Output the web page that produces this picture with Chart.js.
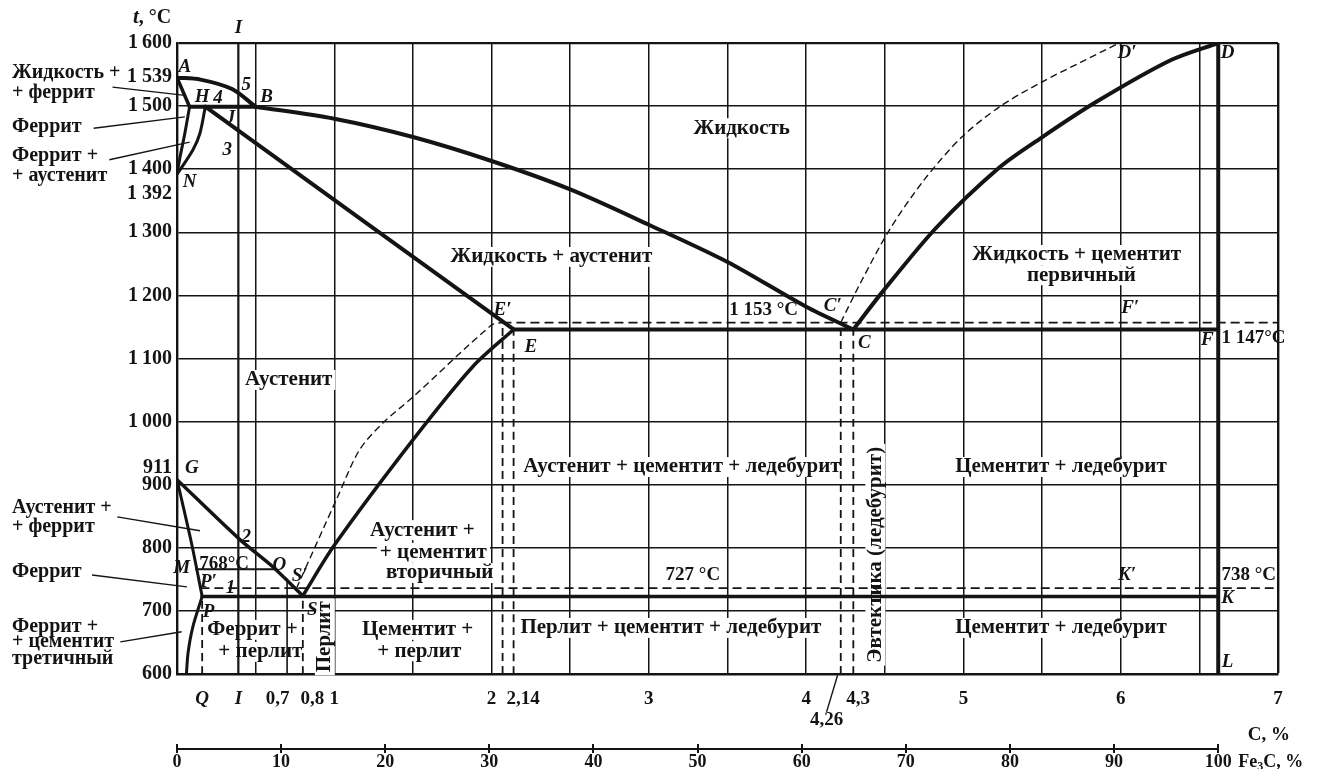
<!DOCTYPE html>
<html>
<head>
<meta charset="utf-8">
<script src="https://cdn.jsdelivr.net/npm/chart.js@4.4.1/dist/chart.umd.min.js"></script>
<style>
  html, body { margin: 0; padding: 0; background: #fff; }
  #wrap { width: 1327px; height: 769px; }
</style>
</head>
<body>
<div id="wrap"><canvas id="chart" width="1327" height="769"></canvas></div>
<script>
// Диаграмма состояния Fe – Fe3C, точки [C %, t °C]

// метастабильная система (сплошные линии)
const liquidusAB = [[0, 1545], [0.15, 1542], [0.35, 1527], [0.5, 1499]]
const solidusAH = [[0, 1545], [0.08, 1499]]
const peritecticHB = [[0.08, 1499], [0.5, 1499]]
const lineHN = [[0.08, 1499], [0.05, 1457], [0.02, 1420], [0, 1392]]
const lineJN = [[0.18, 1499], [0.146, 1457], [0.1, 1430], [0, 1392]]
const solidusJE = [[0.18, 1499], [2.14, 1146]]
const liquidusBC = [[0.5, 1499], [1, 1480], [1.5, 1451], [2, 1413], [2.5, 1368], [3, 1312], [3.5, 1253], [4, 1182], [4.3, 1146]]
const liquidusCD = [[4.3, 1146], [4.48, 1204], [4.83, 1308], [5.23, 1403], [5.49, 1449], [5.84, 1506], [6.32, 1573], [6.62, 1600]]
const eutecticECF = [[2.14, 1146], [6.62, 1146]]
const lineGS = [[0, 908], [0.4, 813], [0.6, 772], [0.8, 724]]
const lineGP = [[0, 908], [0.09, 810], [0.16, 723]]
const linePQ = [[0.16, 723], [0.1, 674], [0.07, 633], [0.06, 600]]
const lineES = [[0.8, 724], [1, 804], [1.5, 971], [1.88, 1087], [2.14, 1146]]
const eutectoidPSK = [[0.16, 723], [6.62, 723]]
const curieMO = [[0.12, 766], [0.62, 766]]

// стабильная система (штриховые линии)
const graphiteCD = [[4.22, 1157], [4.35, 1222], [4.53, 1304], [4.75, 1383], [4.99, 1451], [5.23, 1499], [5.49, 1537], [5.75, 1570], [5.99, 1600]]
const graphiteES = [[0.76, 736], [1.02, 880], [1.16, 955], [1.31, 998], [1.5, 1039], [2, 1153], [2.07, 1157]]
const graphiteECF = [[2.07, 1157], [7, 1157]]
const graphitePSK = [[0.15, 736], [7, 736]]

// вертикали
const alloyI = [[0.39, 600], [0.39, 1600]]
const alloy07 = [[0.7, 600], [0.7, 750]]
const cementiteDL = [[6.62, 600], [6.62, 1600]]
const dropLines = [[0.16, 723], [0.8, 724], [2.07, 1157], [2.14, 1146], [4.22, 1157], [4.3, 1146]]  // [C %, верх]

// шкалы
const gridC = [0, 0.5, 1, 1.5, 2, 2.5, 3, 3.5, 4, 4.5, 5, 5.5, 6, 6.5, 7]
const cTickValues = [0.16, 0.39, 0.7, 0.8, 1, 2, 2.14, 3, 4, 4.3, 5, 6, 7]
const cTickLabels = ['Q', 'I', '0,7', '0,8', '1', '2', '2,14', '3', '4', '4,3', '5', '6', '7']
const fe3cTicks = [0, 10, 20, 30, 40, 50, 60, 70, 80, 90, 100]
const cAtFe3C100 = 6.62

// надписи областей
const phaseLabels = [
  ['Жидкость', 3.59, 1465],
  ['Жидкость + аустенит', 2.38, 1261],
  ['Жидкость + цементит', 5.72, 1264],
  ['первичный', 5.75, 1232],
  ['Аустенит', 0.71, 1066],
  ['Аустенит + цементит + ледебурит', 3.21, 928],
  ['Цементит + ледебурит', 5.62, 928],
  ['Аустенит +', 1.56, 828],
  ['+ цементит', 1.63, 792],
  ['вторичный', 1.67, 760],
  ['Цементит +', 1.53, 670],
  ['+ перлит', 1.54, 636],
  ['Перлит + цементит + ледебурит', 3.14, 673],
  ['Цементит + ледебурит', 5.62, 673],
  ['Феррит +', 0.48, 670],
  ['+ перлит', 0.53, 635]
]
const rotatedLabels = [['Перлит', 0.94, 659], ['Эвтектика (ледебурит)', 4.44, 789]]
const sideLabels = [
  ['Жидкость +', 1552], ['+ феррит', 1521], ['Феррит', 1467], ['Феррит +', 1421], ['+ аустенит', 1389],
  ['Аустенит +', 864], ['+ феррит', 834], ['Феррит', 762],
  ['Феррит +', 675], ['+ цементит', 651], ['третичный', 624]
]
const leaders = [
  [[-0.41, 1530], [0.05, 1517]], [[-0.53, 1465], [0.05, 1483]], [[-0.43, 1415], [0.08, 1443]],
  [[-0.38, 849], [0.146, 827]], [[-0.54, 757], [0.063, 738]], [[-0.36, 651], [0.03, 667]],
  [[4.2, 598], [4.13, 540]]
]
const pointLabels = [
  ['A', 0.05, 1562], ['5', 0.44, 1533], ['H', 0.16, 1514], ['4', 0.26, 1513], ['B', 0.57, 1514],
  ['J', 0.34, 1481], ['3', 0.32, 1430], ['N', 0.08, 1380], ['I', 0.39, 1624], ['G', 0.095, 926],
  ['2', 0.44, 817], ['M', 0.03, 768], ['O', 0.65, 773], ['S′', 0.78, 755], ['P′', 0.2, 746],
  ['1', 0.34, 736], ['P', 0.2, 698], ['S', 0.86, 701], ['E′', 2.07, 1177], ['E', 2.25, 1118],
  ['C′', 4.17, 1183], ['C', 4.37, 1125], ['D′', 6.04, 1584], ['D', 6.68, 1584], ['F′', 6.06, 1180],
  ['F', 6.55, 1129], ['K′', 6.04, 757], ['K', 6.68, 720], ['L', 6.68, 619]
]
const tempLabels = [['1 153 °C', 3.73, 1177], ['727 °C', 3.28, 757], ['768°C', 0.30, 774], ['4,26', 4.13, 527]]
const tempLabelsRight = [['1 147°C', 6.64, 1132], ['738 °C', 6.64, 757]]
const extraTLabels = [['1 539', 1546], ['1 392', 1361], ['911', 926]]

const INK = '#141414'
const SERIF = '"Liberation Serif", "DejaVu Serif", serif'
const F_PHASE = 'bold 21px ' + SERIF
const F_SIDE = 'bold 20px ' + SERIF
const F_POINT = 'italic bold 19px ' + SERIF
const F_NUM = 'bold 19px ' + SERIF

const toXY = pts => pts.map(([x, y]) => ({x, y}))
const lineSet = (pts, width, dash) => ({
  data: toXY(pts),
  showLine: true,
  borderColor: INK,
  borderWidth: width,
  borderDash: dash || [],
  borderCapStyle: dash ? 'butt' : 'round',
  borderJoinStyle: 'round',
  pointRadius: 0,
  tension: 0.3,
  fill: false
})

const datasets = [
  lineSet(liquidusAB, 4), lineSet(solidusAH, 3.5), lineSet(peritecticHB, 4),
  lineSet(lineHN, 3), lineSet(lineJN, 3), lineSet(solidusJE, 4),
  lineSet(liquidusBC, 4), lineSet(liquidusCD, 4), lineSet(eutecticECF, 4),
  lineSet(lineGS, 3.5), lineSet(lineGP, 3), lineSet(linePQ, 3), lineSet(lineES, 3.5),
  lineSet(eutectoidPSK, 3.5), lineSet(curieMO, 2),
  lineSet(graphiteCD, 1.4, [7, 4]), lineSet(graphiteES, 1.4, [7, 4]),
  lineSet(graphiteECF, 1.8, [9, 5]), lineSet(graphitePSK, 1.8, [9, 5]),
  lineSet(alloyI, 2.2), lineSet(alloy07, 1.6), lineSet(cementiteDL, 4)
].concat(dropLines.map(([c, top]) => lineSet([[c, 600], [c, top]], 1.8, [8, 5])))

function put(chart, c, t) {
  return [chart.scales.x.getPixelForValue(c), chart.scales.y.getPixelForValue(t)]
}

function text(ctx, s, x, y, font, align, rot) {
  ctx.save()
  ctx.font = font
  ctx.fillStyle = INK
  ctx.textAlign = align || 'center'
  ctx.textBaseline = 'middle'
  ctx.translate(x, y)
  if (rot) ctx.rotate(rot)
  ctx.fillText(s, 0, 0)
  ctx.restore()
}

function whiteBox(ctx, s, x, y, font, rot) {
  ctx.save()
  ctx.font = font
  const w = ctx.measureText(s).width + 6
  const h = parseInt(font.match(/(\d+)px/)[1]) * 0.95
  ctx.translate(x, y)
  if (rot) ctx.rotate(rot)
  ctx.fillStyle = '#fff'
  ctx.fillRect(-w / 2, -h / 2, w, h)
  ctx.restore()
}

function runs(ctx, parts, x, y) {
  ctx.save()
  ctx.fillStyle = INK
  ctx.textAlign = 'left'
  ctx.textBaseline = 'middle'
  for (const [s, font, dy] of parts) {
    ctx.font = font
    ctx.fillText(s, x, y + dy)
    x += ctx.measureText(s).width
  }
  ctx.restore()
}

const annotate = {
  id: 'annotate',
  beforeDatasetsDraw(chart) {
    const ctx = chart.ctx
    for (const [s, c, t] of phaseLabels) {
      const [x, y] = put(chart, c, t)
      whiteBox(ctx, s, x, y, F_PHASE)
    }
    for (const [s, c, t] of rotatedLabels) {
      const [x, y] = put(chart, c, t)
      whiteBox(ctx, s, x, y, F_PHASE, -Math.PI / 2)
    }
    const [mx, my] = put(chart, 0.30, 774)
    whiteBox(ctx, '768°C', mx, my, F_NUM)
  },
  afterDraw(chart) {
    const ctx = chart.ctx
    for (const [s, c, t] of phaseLabels) {
      const [x, y] = put(chart, c, t)
      text(ctx, s, x, y, F_PHASE)
    }
    for (const [s, c, t] of rotatedLabels) {
      const [x, y] = put(chart, c, t)
      text(ctx, s, x, y, F_PHASE, 'center', -Math.PI / 2)
    }
    for (const [s, t] of sideLabels) {
      const [, y] = put(chart, 0, t)
      text(ctx, s, 12, y, F_SIDE, 'left')
    }
    for (const [s, c, t] of pointLabels) {
      const [x, y] = put(chart, c, t)
      text(ctx, s, x, y, F_POINT)
    }
    for (const [s, c, t] of tempLabels) {
      const [x, y] = put(chart, c, t)
      text(ctx, s, x, y, F_NUM)
    }
    for (const [s, c, t] of tempLabelsRight) {
      const [x, y] = put(chart, c, t)
      text(ctx, s, x, y, F_NUM, 'left')
    }
    const left = chart.chartArea.left
    for (const [s, t] of extraTLabels) {
      const [, y] = put(chart, 0, t)
      text(ctx, s, left - 5, y, 'bold 20px ' + SERIF, 'right')
    }
    // выноски
    ctx.save()
    ctx.strokeStyle = INK
    ctx.lineWidth = 1.4
    for (const [a, b] of leaders) {
      const p = put(chart, a[0], a[1]), q = put(chart, b[0], b[1])
      ctx.beginPath()
      ctx.moveTo(p[0], p[1])
      ctx.lineTo(q[0], q[1])
      ctx.stroke()
    }
    ctx.restore()
    // ось t
    const [, ty] = put(chart, 0, 1640)
    runs(ctx, [['t', 'italic bold 21px ' + SERIF, 0], [', °C', 'bold 20px ' + SERIF, 0]], left - 44, ty)
    // подпись C, %
    const [, cy] = put(chart, 0, 503)
    text(ctx, 'C, %', 1290, cy, F_NUM, 'right')
    // шкала Fe3C
    const xf = chart.scales.xf
    const ly = xf.top + 5
    ctx.save()
    ctx.strokeStyle = INK
    ctx.lineWidth = 2
    ctx.beginPath()
    ctx.moveTo(xf.getPixelForValue(0), ly)
    ctx.lineTo(xf.getPixelForValue(100), ly)
    ctx.stroke()
    ctx.restore()
    runs(ctx, [['Fe', 'bold 18px ' + SERIF, 0], ['3', 'bold 12px ' + SERIF, 5], ['C, %', 'bold 18px ' + SERIF, 0]],
      xf.getPixelForValue(100) + 20, xf.top + 18)
  }
}

const tickNudge = {'0,7': '0,7\u2003', '0,8': '\u20030,8', '2,14': '\u20032,14', '4,3': '\u20024,3'}

new Chart(document.getElementById('chart'), {
  type: 'scatter',
  data: { datasets },
  options: {
    responsive: false,
    devicePixelRatio: 1,
    animation: false,
    events: [],
    layout: { autoPadding: false, padding: { left: 0, top: 43, right: 49, bottom: 0 } },
    plugins: { legend: { display: false }, tooltip: { enabled: false } },
    scales: {
      x: {
        type: 'linear', position: 'bottom', weight: 0, min: 0, max: 7,
        afterBuildTicks: s => { s.ticks = gridC.map(v => ({value: v})) },
        afterFit: s => { s.height = 0 },
        ticks: { display: false, autoSkip: false },
        grid: { color: INK, lineWidth: c => (c.tick && c.tick.value === 7 ? 2.4 : 1.5), drawTicks: false },
        border: { color: INK, width: 2.4 }
      },
      xl: {
        type: 'linear', position: 'bottom', weight: 1, min: 0, max: 7,
        afterBuildTicks: s => { s.ticks = cTickValues.map(v => ({value: v})) },
        afterFit: s => { s.height = 70 },
        grid: { display: false },
        border: { display: false },
        ticks: {
          autoSkip: false, maxRotation: 0, minRotation: 0, padding: 6, color: INK,
          font: c => ({ family: SERIF, size: 19, weight: 'bold', style: c.index < 2 ? 'italic' : 'normal' }),
          callback: (v, i) => tickNudge[cTickLabels[i]] || cTickLabels[i]
        }
      },
      xf: {
        type: 'linear', position: 'bottom', weight: 2, min: 0, max: 100 * 7 / cAtFe3C100,
        afterBuildTicks: s => { s.ticks = fe3cTicks.map(v => ({value: v})) },
        afterFit: s => { s.height = 25 },
        grid: { display: true, drawOnChartArea: false, drawTicks: true, tickLength: 9, color: INK, lineWidth: 2 },
        border: { display: false },
        ticks: {
          autoSkip: false, maxRotation: 0, minRotation: 0, padding: -1, color: INK,
          font: { family: SERIF, size: 18, weight: 'bold' }
        }
      },
      y: {
        type: 'linear', position: 'left', min: 600, max: 1600,
        afterFit: s => { s.width = 177 },
        ticks: {
          stepSize: 100, padding: 5, color: INK,
          font: { family: SERIF, size: 20, weight: 'bold' },
          callback: v => (v >= 1000 ? '1\u2009' + String(v).slice(1) : String(v))
        },
        grid: { color: INK, lineWidth: c => (c.tick && c.tick.value === 1600 ? 2.2 : 1.5), drawTicks: false },
        border: { color: INK, width: 2.4 }
      }
    }
  },
  plugins: [annotate]
})
</script>
</body>
</html>
